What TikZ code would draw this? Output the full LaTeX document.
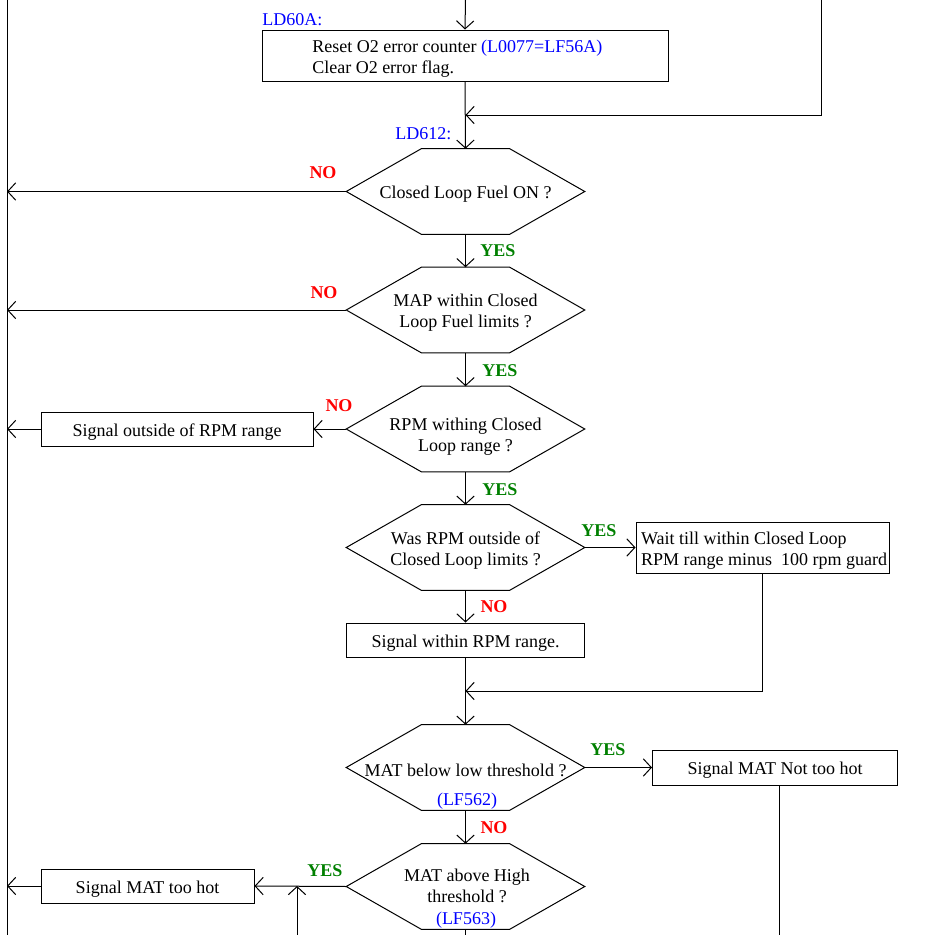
\documentclass[tikz,border=0pt]{standalone}
\usepackage{fontspec}
\setmainfont{Liberation Serif}
\usetikzlibrary{arrows.meta,calc}
\definecolor{yesgreen}{RGB}{0,128,0}
\definecolor{nored}{RGB}{255,0,0}
\definecolor{lblue}{RGB}{0,0,255}
\newcommand\drawhex[1]{%
  \draw[line] (#1.west) -- ($(#1.north west)+(75,0)$) -- ($(#1.north east)+(-75,0)$) -- (#1.east)
    -- ($(#1.south east)+(-75,0)$) -- ($(#1.south west)+(75,0)$) -- cycle;}
\begin{document}
\begin{tikzpicture}[x=0.75pt,y=-0.75pt,
  every node/.style={font=\fontsize{13.5}{15.75}\selectfont},
  line/.style={line width=0.75pt},
  arr/.style={line width=0.75pt, -{Straight Barb[length=6pt,width=13pt]}},
  box/.style={draw, line width=0.75pt, inner sep=0pt},
  hexnode/.style={inner sep=0pt, minimum width=238*0.75pt, minimum height=85*0.75pt},
  txt/.style={align=center, inner sep=0pt, yshift=-2.25pt},
  nolbl/.style={text=nored, font=\fontsize{13.5}{15.75}\selectfont\bfseries, yshift=-0.75pt},
  yeslbl/.style={text=yesgreen, font=\fontsize{13.5}{15.75}\selectfont\bfseries, yshift=-0.75pt},
  bluelbl/.style={text=lblue}
]
\useasboundingbox (0,0) rectangle (940,935);
\coordinate (topL) at (7,0);
\coordinate (botL) at (7,935);
\coordinate (topM) at (465.5,0);
\coordinate (topR) at (821,0);
\coordinate (bottom) at (0,935);
\coordinate (j1) at (465.5,115);
\coordinate (j2) at (465.5,691);

% boxes
\node[box, minimum width=406*0.75pt, minimum height=51*0.75pt] (reset) at (465,55.5) {};
\node[txt, anchor=west, align=left] (resettext) at (312,55.5) {Reset O2 error counter \textcolor{lblue}{(L0077=LF56A)}\\Clear O2 error flag.};
\node[box, minimum width=272*0.75pt, minimum height=34*0.75pt] (sigout) at (177,429) {};
\node[txt] (sigoutT) at (sigout.center) {Signal outside of RPM range};
\node[box, minimum width=253*0.75pt, minimum height=51*0.75pt] (wait) at (762.5,547.5) {};
\node[txt, align=left] (waitT) at ($(wait.center)+(1.5,0)$) {Wait till within Closed Loop\\RPM range minus~ 100 rpm guard};
\node[box, minimum width=238*0.75pt, minimum height=34*0.75pt] (within) at (465.5,640) {};
\node[txt] (withinT) at (within.center) {Signal within RPM range.};
\node[box, minimum width=245*0.75pt, minimum height=35*0.75pt] (nothot) at (775,767.5) {};
\node[txt] (nothotT) at (nothot.center) {Signal MAT Not too hot};
\node[box, minimum width=213*0.75pt, minimum height=34*0.75pt] (toohot) at (147.5,886) {};
\node[txt] (toohotT) at (toohot.center) {Signal MAT too hot};

% hexagons
\node[hexnode] (h1) at (465.5,191.5) {};
\node[txt] (h1T) at (h1.center) {Closed Loop Fuel ON ?};
\node[hexnode] (h2) at (465.5,310) {};
\node[txt] (h2T) at (h2.center) {MAP within Closed\\Loop Fuel limits ?};
\node[hexnode] (h3) at (465.5,429) {};
\node[txt] (h3T) at (465.5,434) {RPM withing Closed\\Loop range ?};
\node[hexnode] (h4) at (465.5,547.5) {};
\node[txt] (h4T) at (h4.center) {Was RPM outside of\\Closed Loop limits ?};
\node[hexnode] (h5) at (465.5,767.5) {};
\node[txt] (h5T) at (h5.center) {MAT below low threshold ?};
\node[txt, text=lblue] (lf562) at (467,798) {(LF562)};
\node[hexnode] (h6) at (465.5,886.5) {};
\node[txt] (h6T) at (467,882.5) {MAT above High\\threshold ?};
\node[txt, text=lblue] (lf563) at (466,917) {(LF563)};
\drawhex{h1}
\drawhex{h2}
\drawhex{h3}
\drawhex{h4}
\drawhex{h5}
\drawhex{h6}

% labels
\node[bluelbl, anchor=west, inner sep=0pt, yshift=-0.75pt] (ld60a) at (262,19) {LD60A:};
\node[bluelbl, anchor=west, inner sep=0pt, yshift=-0.75pt] (ld612) at (395,133) {LD612:};
\node[nolbl] (no1) at (323,172) {NO};
\node[yeslbl] (yes1) at (498,250) {YES};
\node[nolbl] (no2) at (324,292) {NO};
\node[yeslbl] (yes2) at (500,370) {YES};
\node[nolbl] (no3) at (339,405) {NO};
\node[yeslbl] (yes3) at (500,489) {YES};
\node[yeslbl] (yes4) at (599,530) {YES};
\node[nolbl] (no4) at (494,606) {NO};
\node[yeslbl] (yes5) at (608,749) {YES};
\node[nolbl] (no5) at (494,827) {NO};
\node[yeslbl] (yes6) at (325,870) {YES};

% connectors
\draw[line] (topL) -- (botL);
\draw[arr] (topM) -- (reset.north);
\draw[arr] (reset.south) -- (h1.north);
\draw[arr] (topR) -- (topR |- j1) -- (j1);
\draw[arr] (h1.west) -- (h1.west -| topL);
\draw[arr] (h1.south) -- (h2.north);
\draw[arr] (h2.west) -- (h2.west -| topL);
\draw[arr] (h2.south) -- (h3.north);
\draw[arr] (h3.west) -- (sigout.east);
\draw[arr] (sigout.west) -- (sigout.west -| topL);
\draw[arr] (h3.south) -- (h4.north);
\draw[arr] (h4.east) -- (wait.west);
\draw[arr] (h4.south) -- (within.north);
\draw[arr] (within.south) -- (h5.north);
\draw[arr] (wait.south) -- (wait.south |- j2) -- (j2);
\draw[arr] (h5.east) -- (nothot.west);
\draw[arr] (h5.south) -- (h6.north);
\draw[arr] (h6.west) -- (toohot.east);
\draw[arr] (toohot.west) -- (toohot.west -| topL);
\draw[line] (h6.south) -- (h6.south |- bottom);
\coordinate (nb) at ($(nothot.south)+(4.5,0)$);
\draw[line] (nb) -- (nb |- bottom);
\coordinate (up) at (297,935);
\draw[arr] (up) -- (up |- toohot.east);
\end{tikzpicture}
\end{document}
